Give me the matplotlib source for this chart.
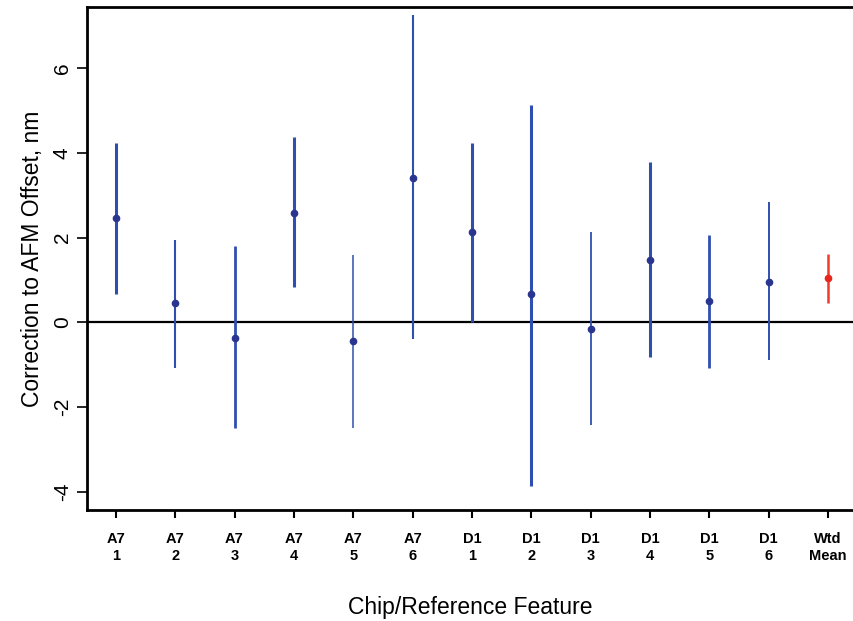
import numpy as np
import matplotlib
matplotlib.use("Agg")
import matplotlib.pyplot as plt

plt.rcParams["font.family"] = ["Liberation Sans", "DejaVu Sans"]

labels = ["A7\n1", "A7\n2", "A7\n3", "A7\n4", "A7\n5", "A7\n6",
          "D1\n1", "D1\n2", "D1\n3", "D1\n4", "D1\n5", "D1\n6", "Wtd\nMean"]
centers = [2.45, 0.45, -0.36, 2.58, -0.44, 3.40, 2.14, 0.66, -0.15, 1.46, 0.51, 0.96, 1.04]
upper = [4.22, 1.95, 1.79, 4.37, 1.60, 7.25, 4.24, 5.12, 2.13, 3.77, 2.05, 2.83, 1.61]
lower = [0.67, -1.07, -2.50, 0.83, -2.49, -0.39, 0.00, -3.86, -2.42, -0.81, -1.07, -0.88, 0.45]
widths = [2.2, 1.5, 2.0, 2.2, 1.1, 1.5, 2.2, 2.2, 1.3, 2.2, 2.0, 1.4, 1.8]

fig = plt.figure(figsize=(8.54, 6.21), dpi=100)
ax = fig.add_axes([0.102, 0.179, 0.898, 0.81])

x = np.arange(1, len(labels) + 1)
for i in range(len(labels)):
    if i == len(labels) - 1:
        lc, mc = "#f03a2a", "#e8261c"
    else:
        lc, mc = "#2f4fb0", "#2a3590"
    ax.vlines(x[i], lower[i], upper[i], color=lc, linewidth=widths[i], zorder=2)
    ax.plot(x[i], centers[i], marker="o", markersize=4.5, color=mc, zorder=3)

ax.axhline(0, color="black", linewidth=1.6, zorder=1)

ax.set_xlim(0.516, 13.44)
ax.set_ylim(-4.42, 7.44)
ax.set_yticks([-4, -2, 0, 2, 4, 6])
ax.set_yticklabels(["-4", "-2", "0", "2", "4", "6"], rotation=90, va="center", fontsize=15)
ax.set_xticks(x)
ax.set_xticklabels(labels, fontsize=10.5, fontweight="bold", linespacing=1.25)

ax.spines["right"].set_visible(False)
for s in ["left", "top", "bottom"]:
    ax.spines[s].set_linewidth(2.0)
ax.tick_params(axis="y", length=7, width=1.2, pad=4)
ax.tick_params(axis="x", length=6, width=1.5, pad=10)

ax.set_ylabel("Correction to AFM Offset, nm", fontsize=16.5, labelpad=6)
ax.set_xlabel("Chip/Reference Feature", fontsize=16.5, labelpad=24)

fig.savefig("out.png", dpi=100)
